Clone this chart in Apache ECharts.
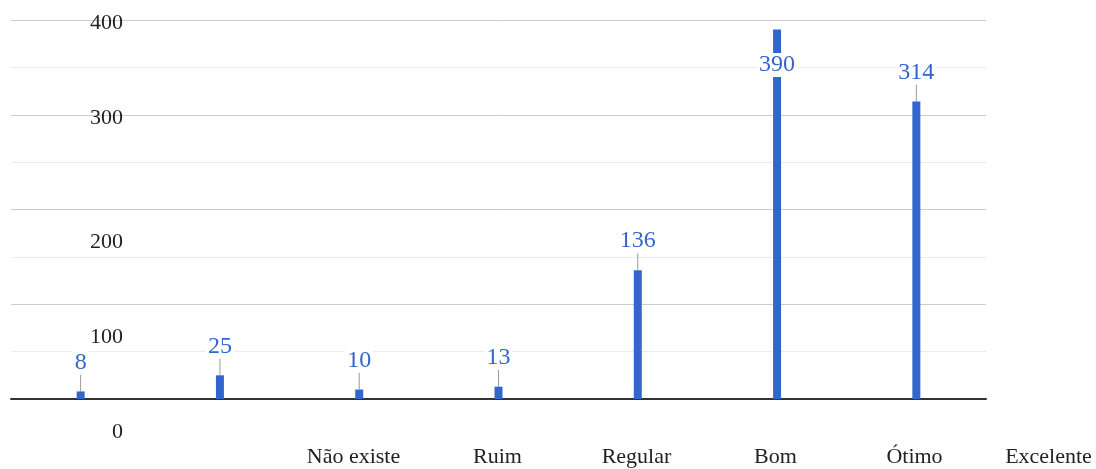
<!DOCTYPE html>
<html>
<head>
<meta charset="utf-8">
<script src="https://cdn.jsdelivr.net/npm/echarts@6/dist/echarts.min.js"></script>
<style>
html,body{margin:0;padding:0;background:#fff;}
#chart{width:1096px;height:469px;}
</style>
</head>
<body>
<div id="chart"></div>
<script>
// ---- data ----
const barCategories = ['1', '2', '3', '4', '5', '6', '7'];
const barValues = [8, 25, 10, 13, 136, 390, 314];
const xLabels = ['Não existe', 'Ruim', 'Regular', 'Bom', 'Ótimo', 'Excelente'];
const yMin = 0, yMax = 400, yStep = 50, yLabelStep = 100;

const FONT = 'Liberation Serif';
const BLUE = '#3366cc';

const chart = echarts.init(document.getElementById('chart'));
chart.setOption({
  animation: false,
  grid: [
    {left: 11, right: 110, top: 20, bottom: 70, outerBoundsMode: 'none'},
    {left: 289, width: 834, top: 20, bottom: 70, outerBoundsMode: 'none'}
  ],
  xAxis: [
    {
      type: 'category', gridIndex: 0, data: barCategories,
      axisLine: {show: true, lineStyle: {color: '#333', width: 2}},
      axisTick: {show: false}, axisLabel: {show: false}, splitLine: {show: false}
    },
    {
      type: 'category', gridIndex: 1, data: xLabels,
      axisLine: {show: false}, axisTick: {show: false}, splitLine: {show: false},
      axisLabel: {
        show: true, interval: 0, margin: 47, hideOverlap: false,
        fontFamily: FONT, fontSize: 22, color: '#222',
        formatter: function (v, i) {
          if (i === 0 || i === xLabels.length - 1) return '{shift|' + v + '}';
          return v;
        },
        rich: {
          shift: {fontFamily: FONT, fontSize: 22, color: '#222', padding: [0, 10, 0, 0]}
        }
      }
    }
  ],
  yAxis: [
    {
      type: 'value', gridIndex: 0, min: yMin, max: yMax, interval: yStep,
      axisLine: {show: false}, axisTick: {show: false},
      splitLine: {show: true, lineStyle: {color: ['#cccccc', '#ebebeb'], width: 1}},
      axisLabel: {
        show: true, margin: -112, align: 'right',
        fontFamily: FONT, fontSize: 22, color: '#222',
        formatter: function (v) {
          if (v % yLabelStep !== 0) return '';
          return v <= 200 ? '{low|' + v + '}' : '{high|' + v + '}';
        },
        rich: {
          high: {fontFamily: FONT, fontSize: 22, color: '#222', padding: [7, 0, 0, 0]},
          low: {fontFamily: FONT, fontSize: 22, color: '#222', padding: [66, 0, 0, 0]}
        }
      }
    },
    {
      type: 'value', gridIndex: 1, min: yMin, max: yMax, show: false,
      splitLine: {show: false}
    }
  ],
  series: [
    {
      type: 'bar', xAxisIndex: 0, yAxisIndex: 0,
      data: barValues, barWidth: 8,
      itemStyle: {color: BLUE},
      label: {
        show: true, position: 'top', distance: 0,
        fontFamily: FONT, fontSize: 24, color: BLUE,
        backgroundColor: '#fff', padding: [0, 2]
      },
      labelLayout: function (p) {
        return {
          x: p.rect.x + p.rect.width / 2,
          y: Math.max(p.rect.y - 29, 65),
          align: 'center',
          verticalAlign: 'middle'
        };
      },
      labelLine: {show: true, lineStyle: {color: '#999', width: 1}}
    }
  ]
});
</script>
</body>
</html>
